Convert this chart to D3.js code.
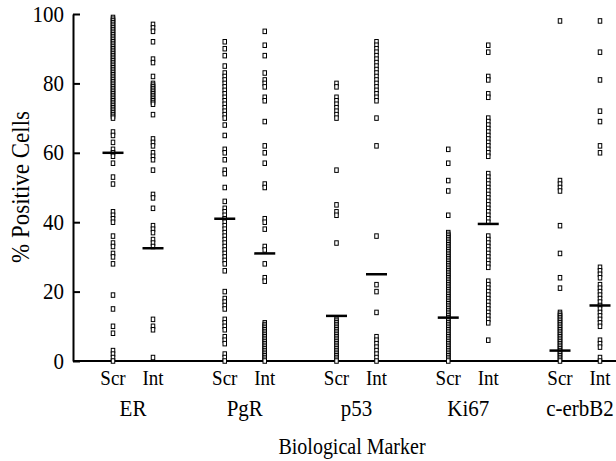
<!DOCTYPE html>
<html lang="en">
<head>
<meta charset="UTF-8">
<script src="https://cdnjs.cloudflare.com/ajax/libs/d3/7.8.5/d3.min.js"></script>
<style>
    body { margin: 0; background: #fff; }
    text { font-family: "Liberation Serif", "Times New Roman", serif; fill: #000; }
</style>
</head>
<body>
<svg width="616" height="461"></svg>
<script>
    // markers and the two sample types
    var markers = ["ER", "PgR", "p53", "Ki67", "c-erbB2"];
    var samples = ["Scr", "Int"];
    var yTicks = [0, 20, 40, 60, 80, 100];

    // % positive cells (one array per column)
    var erScr = [99,98.5,98,97.5,97,96.5,96,95.5,95,94.5,94,93.5,93,92.5,92,91.5,91,90.5,90,89.5,89,88.5,88,87.5,87,
                 86.5,86,85.5,85,84.5,84,83.5,83,82.5,82,81.5,81,80.5,80,79.5,79,78.5,78,77.5,77,76.5,76,75.5,75,74.5,
                 74,73.5,73,72.5,72,71.5,71,70.5,70,
                 66,65,63,61,60,59,57,53,51,43,42,41,40,36,34,33,31,30,28,19,15,10,8,3,2,1,0];
    var erInt = [97,96,95,92,87,86,82,80,79.5,79,78.5,78,77.5,77,76.5,76,75.5,75,74.5,74,71,
                 64,63,62,60,59,58,55,48,47,44,39,38,37,35,34,33,12,10,9,1];
    var pgrScr = [92,90,88,85,83,82,81,80,79,78,77,76,75,74,73,72,71,70,68,65,61,60,58,55,54,50,46,44,43,42,41,40,
                  39,38,37,36,35,34,33,32,31,30,29,28,26,20,18,17,16,15,12,11,10,9,7,6,5,2,1,0];
    var pgrInt = [95,91,88,83,81,80,79,76,75,69,62,60,57,51,50,41,40,38,33,32,28,24,23,
                  11,10.5,10,9.5,9,8.5,8,7.5,7,6.5,6,5.5,5,4.5,4,3.5,3,2.5,2,1.5,1,0.5,0];
    var p53Scr = [80,79,76,75,74,73,72,71,70,55,45,43,42,34,
                  12,11.5,11,10.5,10,9.5,9,8.5,8,7.5,7,6.5,6,5.5,5,4.5,4,3.5,3,2.5,2,1.5,1,0.5,0];
    var p53Int = [92,91,90,89,88,87,86,85,84,83,82,81,80,79,78,77,76,75,70,62,36,22,20,14,7,6,5,4,3,2,1,0];
    var ki67Scr = [61,57,52,49,42,37,36.5,36,35.5,35,34.5,34,33.5,33,32.5,32,31.5,31,30.5,30,29.5,29,28.5,28,27.5,27,
                   26.5,26,25.5,25,24.5,24,23.5,23,22.5,22,21.5,21,20.5,20,19.5,19,18.5,18,17.5,17,16.5,16,15.5,15,
                   14.5,14,13.5,13,12.5,12,11.5,11,10.5,10,9.5,9,8.5,8,7.5,7,6.5,6,5.5,5,4.5,4,3.5,3,2.5,2,1.5,1,0.5,0];
    var ki67Int = [91,89,82,81,77,76,70,69,68,67,66,65,64,63,62,61,60,59,54,53,52,51,50,49,48,47,46,45,44,43,42,41,40,
                   36,35,34,33,32,31,30,29,28,27,23,22,21,20,19,18,17,16,15,14,13,12,11,6];
    var erbScr = [98,52,51,50,49,39,31,24,21,14,13.5,13,12.5,12,11.5,11,10.5,10,9.5,9,8.5,8,7.5,7,6.5,6,5.5,5,
                  4.5,4,3.5,3,2.5,2,1.5,1,0.5,0];
    var erbInt = [98,89,81,72,69,62,60,27,26,25,24,22,21,20,19,18,17,16,15,14,13,12,11,10,6,5,4,1,0];

    // median bars, same column order
    var medians = [60, 32.5, 41, 31, 13, 25, 12.5, 39.5, 3, 16];

    var columns = [erScr, erInt, pgrScr, pgrInt, p53Scr, p53Int, ki67Scr, ki67Int, erbScr, erbInt];

    var svg = d3.select("svg");
    var plotLeft = 73, plotBottom = 361, plotTop = 14;

    var y = d3.scaleLinear().domain([0, 100]).range([plotBottom, plotTop]);
    var xGroup = d3.scalePoint().domain(markers).range([133, 580]);
    var xSample = d3.scalePoint().domain(samples).range([-20, 20]);

    function colX(i) {
        return xGroup(markers[Math.floor(i / 2)]) + xSample(samples[i % 2]);
    }

    // text in the scan is a bit taller than the font
    function stretched(x, yy) {
        return "translate(" + x + "," + yy + ") scale(1,1.12)";
    }

    // y axis, ticks pointing inwards
    var yAxis = svg.append("g")
        .attr("transform", "translate(" + plotLeft + ",0)")
        .call(d3.axisLeft(y).tickValues(yTicks).tickSizeInner(-7).tickSizeOuter(0).tickPadding(9));
    yAxis.attr("font-family", null);
    yAxis.select(".domain").attr("stroke", "#000").attr("stroke-width", 2);
    yAxis.selectAll(".tick line").attr("stroke", "#000").attr("stroke-width", 2);
    yAxis.selectAll(".tick text")
        .attr("x", null).attr("dy", null)
        .attr("transform", "translate(-9,7) scale(1,1.12)")
        .style("font-size", "21px");

    // x baseline
    svg.append("line")
        .attr("x1", plotLeft).attr("x2", 616)
        .attr("y1", plotBottom).attr("y2", plotBottom)
        .attr("stroke", "#000").attr("stroke-width", 2);

    // points
    columns.forEach(function (vals, i) {
        svg.append("g").selectAll("rect")
            .data(vals)
            .enter()
            .append("rect")
            .attr("x", colX(i) - 1.75)
            .attr("y", d => y(d) - 2.25)
            .attr("width", 3.5)
            .attr("height", 4.5)
            .attr("fill", "#fff")
            .attr("stroke", "#000")
            .attr("stroke-width", 1);
    });

    // median bars
    svg.append("g").selectAll("line")
        .data(medians)
        .enter()
        .append("line")
        .attr("x1", (d, i) => colX(i) - 10.5)
        .attr("x2", (d, i) => colX(i) + 10.5)
        .attr("y1", d => y(d))
        .attr("y2", d => y(d))
        .attr("stroke", "#000")
        .attr("stroke-width", 2.5);

    // Scr / Int labels
    columns.forEach(function (vals, i) {
        svg.append("text")
            .attr("transform", stretched(colX(i), 385))
            .attr("text-anchor", "middle")
            .style("font-size", "19px")
            .text(samples[i % 2]);
    });

    // marker names
    svg.append("g").selectAll("text")
        .data(markers)
        .enter()
        .append("text")
        .attr("transform", d => stretched(xGroup(d), 416))
        .attr("text-anchor", "middle")
        .style("font-size", "21px")
        .text(d => d);

    svg.append("text")
        .attr("transform", stretched(352, 454))
        .attr("text-anchor", "middle")
        .style("font-size", "20px")
        .text("Biological Marker");

    svg.append("text")
        .attr("transform", "translate(29,187) rotate(-90) scale(1,1.12)")
        .attr("text-anchor", "middle")
        .style("font-size", "23px")
        .text("% Positive Cells");
</script>
</body>
</html>
